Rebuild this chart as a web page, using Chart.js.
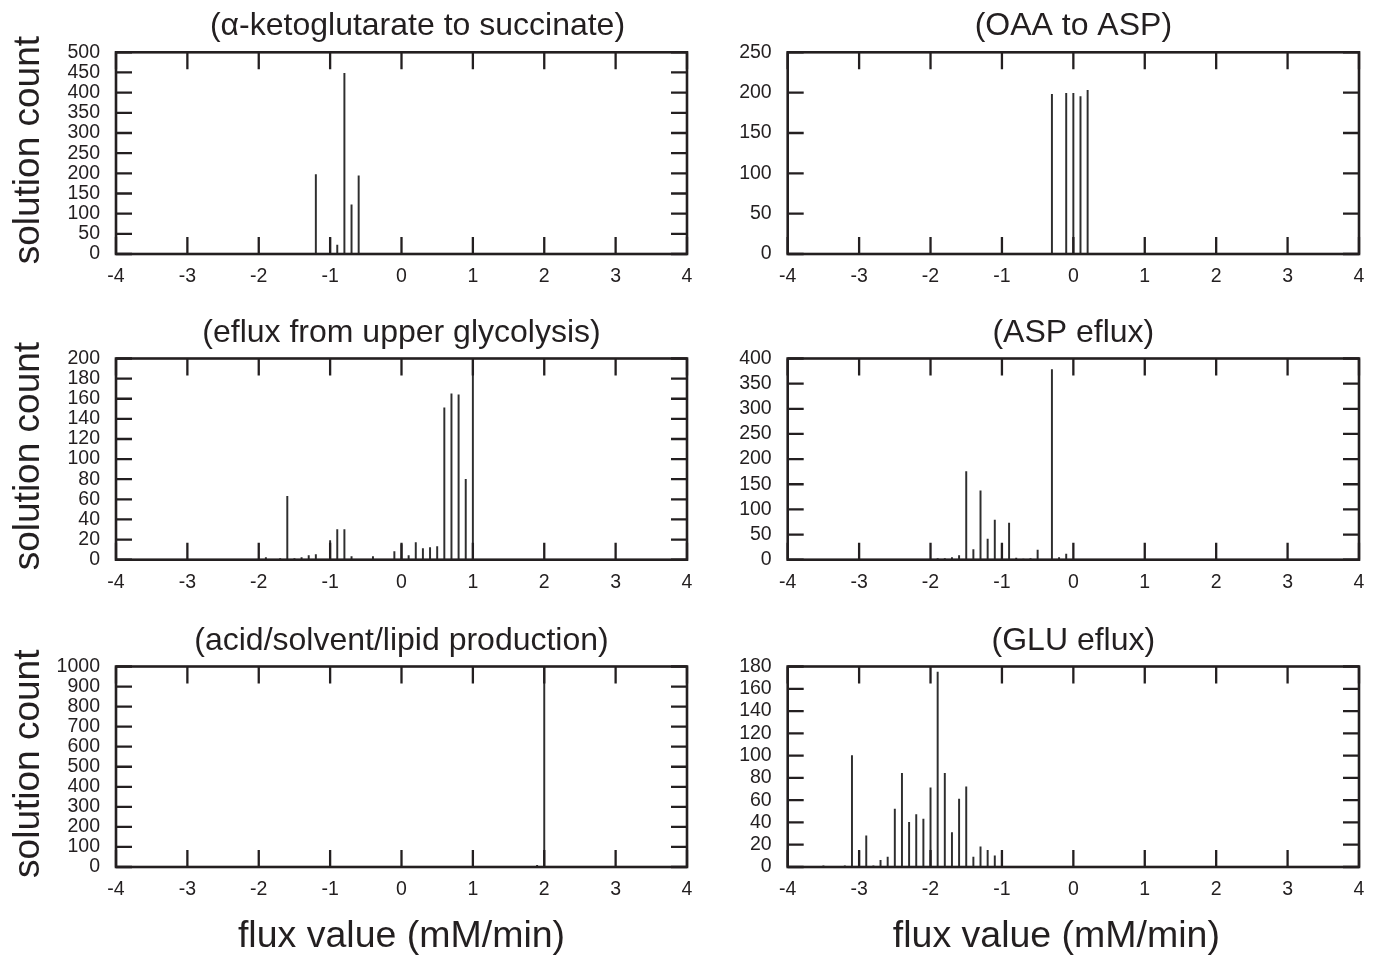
<!DOCTYPE html>
<html>
<head>
<meta charset="utf-8">
<title>Flux value distributions</title>
<script src="https://cdn.jsdelivr.net/npm/chart.js@4.4.1/dist/chart.umd.min.js"></script>
<style>
  html, body { margin: 0; padding: 0; background: #ffffff; }
  body { width: 1385px; height: 960px; position: relative; overflow: hidden; }
  canvas { position: absolute; }
</style>
</head>
<body>
<canvas id="p1"></canvas>
<canvas id="p2"></canvas>
<canvas id="p3"></canvas>
<canvas id="p4"></canvas>
<canvas id="p5"></canvas>
<canvas id="p6"></canvas>
<script>
// ---- histogram data: flux bins (mM/min) and solution counts ----
const fluxTicks = [-4, -3, -2, -1, 0, 1, 2, 3, 4];

const akgFlux  = [-1.2, -1.0, -0.9, -0.8, -0.7, -0.6];
const akgCount = [197, 40, 22, 448, 122, 194];
const akgTicks = [0, 50, 100, 150, 200, 250, 300, 350, 400, 450, 500];

const oaaFlux  = [-0.3, -0.1, 0.0, 0.1, 0.2];
const oaaCount = [198, 199, 199, 195, 203];
const oaaTicks = [0, 50, 100, 150, 200, 250];

const glycFlux  = [-1.9, -1.7, -1.6, -1.5, -1.4, -1.3, -1.2, -1.0, -0.9, -0.8, -0.7, -0.4,
                   -0.1, 0.0, 0.1, 0.2, 0.3, 0.4, 0.5, 0.6, 0.7, 0.8, 0.9, 1.0];
const glycCount = [2, 1, 63, 1, 2, 4, 5, 19, 30, 30, 3, 3,
                   8, 15, 4, 17, 11, 12, 13, 151, 165, 164, 80, 200];
const glycTicks = [0, 20, 40, 60, 80, 100, 120, 140, 160, 180, 200];

const aspFlux  = [-1.9, -1.8, -1.7, -1.6, -1.5, -1.4, -1.3, -1.2, -1.1, -1.0, -0.9,
                  -0.8, -0.7, -0.6, -0.5, -0.3, -0.2, -0.1];
const aspCount = [2, 2, 4, 8, 175, 20, 137, 41, 79, 30, 73,
                  3, 1, 2, 19, 378, 4, 11];
const aspTicks = [0, 50, 100, 150, 200, 250, 300, 350, 400];

const prodFlux  = [1.9, 2.0];
const prodCount = [8, 1000];
const prodTicks = [0, 100, 200, 300, 400, 500, 600, 700, 800, 900, 1000];

const gluFlux  = [-3.5, -3.2, -3.1, -3.0, -2.9, -2.8, -2.7, -2.6, -2.5, -2.4, -2.3, -2.2,
                  -2.1, -2.0, -1.9, -1.8, -1.7, -1.6, -1.5, -1.4, -1.3, -1.2, -1.1, -1.0];
const gluCount = [1, 1, 100, 14, 28, 1, 6, 9, 52, 84, 40, 47,
                  43, 71, 175, 84, 31, 61, 72, 9, 18, 15, 10, 12];
const gluTicks = [0, 20, 40, 60, 80, 100, 120, 140, 160, 180];

// ---- styling ----
const INK = '#231f20';
const BAR = '#2e2e2e';
const FONT = '"Liberation Sans", Arial, Helvetica, sans-serif';

// Frame round the plot area plus inward tick marks on all four sides.
const frameAndTicks = {
  id: 'frameAndTicks',
  afterDatasetsDraw(chart) {
    const { ctx, chartArea: { left, right, top, bottom }, scales: { x, y } } = chart;
    ctx.save();
    ctx.strokeStyle = INK;
    ctx.lineCap = 'butt';
    ctx.lineWidth = 2.3;
    ctx.beginPath();
    x.ticks.forEach(t => {
      const px = x.getPixelForValue(t.value);
      ctx.moveTo(px, bottom); ctx.lineTo(px, bottom - 17);
      ctx.moveTo(px, top);    ctx.lineTo(px, top + 17);
    });
    y.ticks.forEach(t => {
      const py = y.getPixelForValue(t.value);
      ctx.moveTo(left, py);  ctx.lineTo(left + 16, py);
      ctx.moveTo(right, py); ctx.lineTo(right - 16, py);
    });
    ctx.stroke();
    ctx.lineWidth = 2.6;
    ctx.strokeRect(left, top, right - left, bottom - top);
    ctx.restore();
  }
};

// Panel heading, vertical count label and flux axis label.
const captions = {
  id: 'captions',
  afterDraw(chart, args, opts) {
    const { ctx, chartArea: { left, right, top, bottom } } = chart;
    const cx = (left + right) / 2;
    ctx.save();
    ctx.fillStyle = INK;
    ctx.textAlign = 'center';
    ctx.textBaseline = 'alphabetic';
    ctx.font = `32px ${FONT}`;
    ctx.fillText(opts.title, cx + (opts.titleShift || 0), top - 17);
    if (opts.xTitle) {
      ctx.font = `37.5px ${FONT}`;
      ctx.fillText(opts.xTitle, cx + (opts.xTitleShift || 0), bottom + 80);
    }
    if (opts.yTitle) {
      ctx.translate(39, (top + bottom) / 2 - 3);
      ctx.rotate(-Math.PI / 2);
      ctx.font = `37px ${FONT}`;
      ctx.fillText(opts.yTitle, 0, 0);
    }
    ctx.restore();
  }
};

// Page layout: canvas boxes and plot rectangles (page pixels).
const columns = [
  { x: 0,   w: 712, l: 116,   r: 687 },
  { x: 712, w: 673, l: 787.7, r: 1359 }
];
const rows = [
  { y: 0,   h: 307, t: 52.3,  b: 254 },
  { y: 307, h: 307, t: 358.5, b: 559.7 },
  { y: 614, h: 346, t: 666.5, b: 867 }
];

function makePanel(id, col, row, flux, count, yTicks, caption) {
  const cv = document.getElementById(id);
  cv.width = col.w;
  cv.height = row.h;
  cv.style.left = col.x + 'px';
  cv.style.top = row.y + 'px';

  const padTop = row.t - row.y;
  const padRight = col.x + col.w - col.r;
  const yWidth = col.l - col.x;
  const xHeight = row.y + row.h - row.b;

  return new Chart(cv, {
    type: 'bar',
    data: {
      datasets: [{
        data: flux.map((f, i) => ({ x: f, y: count[i] })),
        backgroundColor: BAR,
        borderWidth: 0,
        barThickness: 1.3
      }]
    },
    options: {
      responsive: false,
      animation: false,
      events: [],
      layout: { padding: { top: padTop, right: padRight, left: 0, bottom: 0 } },
      plugins: {
        legend: { display: false },
        tooltip: { enabled: false },
        title: { display: false },
        captions: caption
      },
      scales: {
        x: {
          type: 'linear',
          min: fluxTicks[0],
          max: fluxTicks[fluxTicks.length - 1],
          offset: false,
          grid: { display: false, drawTicks: false },
          border: { display: false },
          afterBuildTicks: s => { s.ticks = fluxTicks.map(v => ({ value: v })); },
          ticks: {
            autoSkip: false, maxRotation: 0, minRotation: 0, padding: 11,
            color: INK, font: { family: FONT, size: 19.5 },
            callback: v => String(v)
          },
          afterFit: s => { s.height = xHeight; }
        },
        y: {
          type: 'linear',
          min: yTicks[0],
          max: yTicks[yTicks.length - 1],
          grid: { display: false, drawTicks: false },
          border: { display: false },
          afterBuildTicks: s => { s.ticks = yTicks.map(v => ({ value: v })); },
          ticks: {
            autoSkip: false, padding: 16,
            color: INK, font: { family: FONT, size: 19.5 },
            callback: v => String(v)
          },
          afterFit: s => { s.width = yWidth; }
        }
      }
    },
    plugins: [frameAndTicks, captions]
  });
}

const countLabel = 'solution count';
const fluxLabel = 'flux value (mM/min)';

makePanel('p1', columns[0], rows[0], akgFlux, akgCount, akgTicks,
  { title: '(\u03b1-ketoglutarate to succinate)', titleShift: 16, yTitle: countLabel });
makePanel('p2', columns[1], rows[0], oaaFlux, oaaCount, oaaTicks,
  { title: '(OAA to ASP)' });
makePanel('p3', columns[0], rows[1], glycFlux, glycCount, glycTicks,
  { title: '(eflux from upper glycolysis)', yTitle: countLabel });
makePanel('p4', columns[1], rows[1], aspFlux, aspCount, aspTicks,
  { title: '(ASP eflux)' });
makePanel('p5', columns[0], rows[2], prodFlux, prodCount, prodTicks,
  { title: '(acid/solvent/lipid production)', yTitle: countLabel, xTitle: fluxLabel });
makePanel('p6', columns[1], rows[2], gluFlux, gluCount, gluTicks,
  { title: '(GLU eflux)', xTitle: fluxLabel, xTitleShift: -17 });
</script>
</body>
</html>
